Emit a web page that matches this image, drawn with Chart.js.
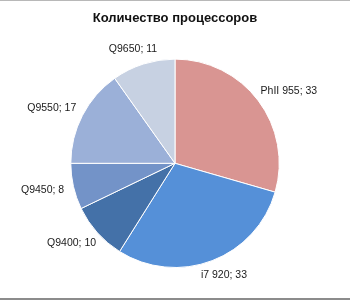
<!DOCTYPE html>
<html>
<head>
<meta charset="utf-8">
<script src="https://cdn.jsdelivr.net/npm/chart.js@4"></script>
<style>
  html, body { margin: 0; padding: 0; background: #fff; }
  #wrap { width: 350px; height: 300px; box-sizing: border-box; border-top: 1px solid #b8b8b8; border-bottom: 2px solid #8c8c8c; }
</style>
</head>
<body>
<div id="wrap"><canvas id="cpuPie"></canvas></div>
<script>
var labels = ['PhII 955', 'i7 920', 'Q9400', 'Q9450', 'Q9550', 'Q9650'];
var counts = [33, 33, 10, 8, 17, 11];
var colors = ['#D99592', '#5590D8', '#4471A8', '#7393C8', '#9BB0D8', '#C7D1E2'];

Chart.defaults.font.family = "'Liberation Sans', Arial, sans-serif";
Chart.defaults.color = '#1a1a1a';

// labels outside the slices, "name; value"
var outsideLabels = {
    id: 'outsideLabels',
    afterDatasetsDraw: function(chart) {
        var ctx = chart.ctx;
        var meta = chart.getDatasetMeta(0);
        ctx.save();
        ctx.font = "10.5px 'Liberation Sans', Arial, sans-serif";
        ctx.fillStyle = '#1a1a1a';
        ctx.textAlign = 'center';
        ctx.textBaseline = 'middle';
        meta.data.forEach(function(arc, i) {
            var p = arc.getProps(['x', 'y', 'startAngle', 'endAngle', 'outerRadius'], true);
            var mid = (p.startAngle + p.endAngle) / 2;
            var text = labels[i] + '; ' + counts[i];
            var w = ctx.measureText(text).width;
            var h = 12;
            var r = p.outerRadius + 10;
            var cx = p.x + Math.cos(mid) * r + Math.cos(mid) * w / 2;
            var cy = p.y + Math.sin(mid) * r + Math.sin(mid) * h / 2;
            ctx.fillText(text, cx, cy);
        });
        ctx.restore();
    }
};

var ctx = document.getElementById('cpuPie');
var myChart = new Chart(ctx, {
    type: 'pie',
    plugins: [outsideLabels],
    data: {
        labels: labels,
        datasets: [{
            data: counts,
            backgroundColor: colors,
            borderColor: '#ffffff',
            borderWidth: 1
        }]
    },
    options: {
        responsive: true,
        maintainAspectRatio: false,
        animation: false,
        layout: {
            padding: { top: 0, bottom: 30, left: 0, right: 0 }
        },
        plugins: {
            legend: { display: false },
            tooltip: { enabled: false },
            title: {
                display: true,
                text: 'Количество процессоров',
                color: '#111',
                font: { size: 13, weight: 'bold', family: "'Liberation Sans', Arial, sans-serif" },
                padding: { top: 10, bottom: 32 }
            }
        }
    }
});
</script>
</body>
</html>
